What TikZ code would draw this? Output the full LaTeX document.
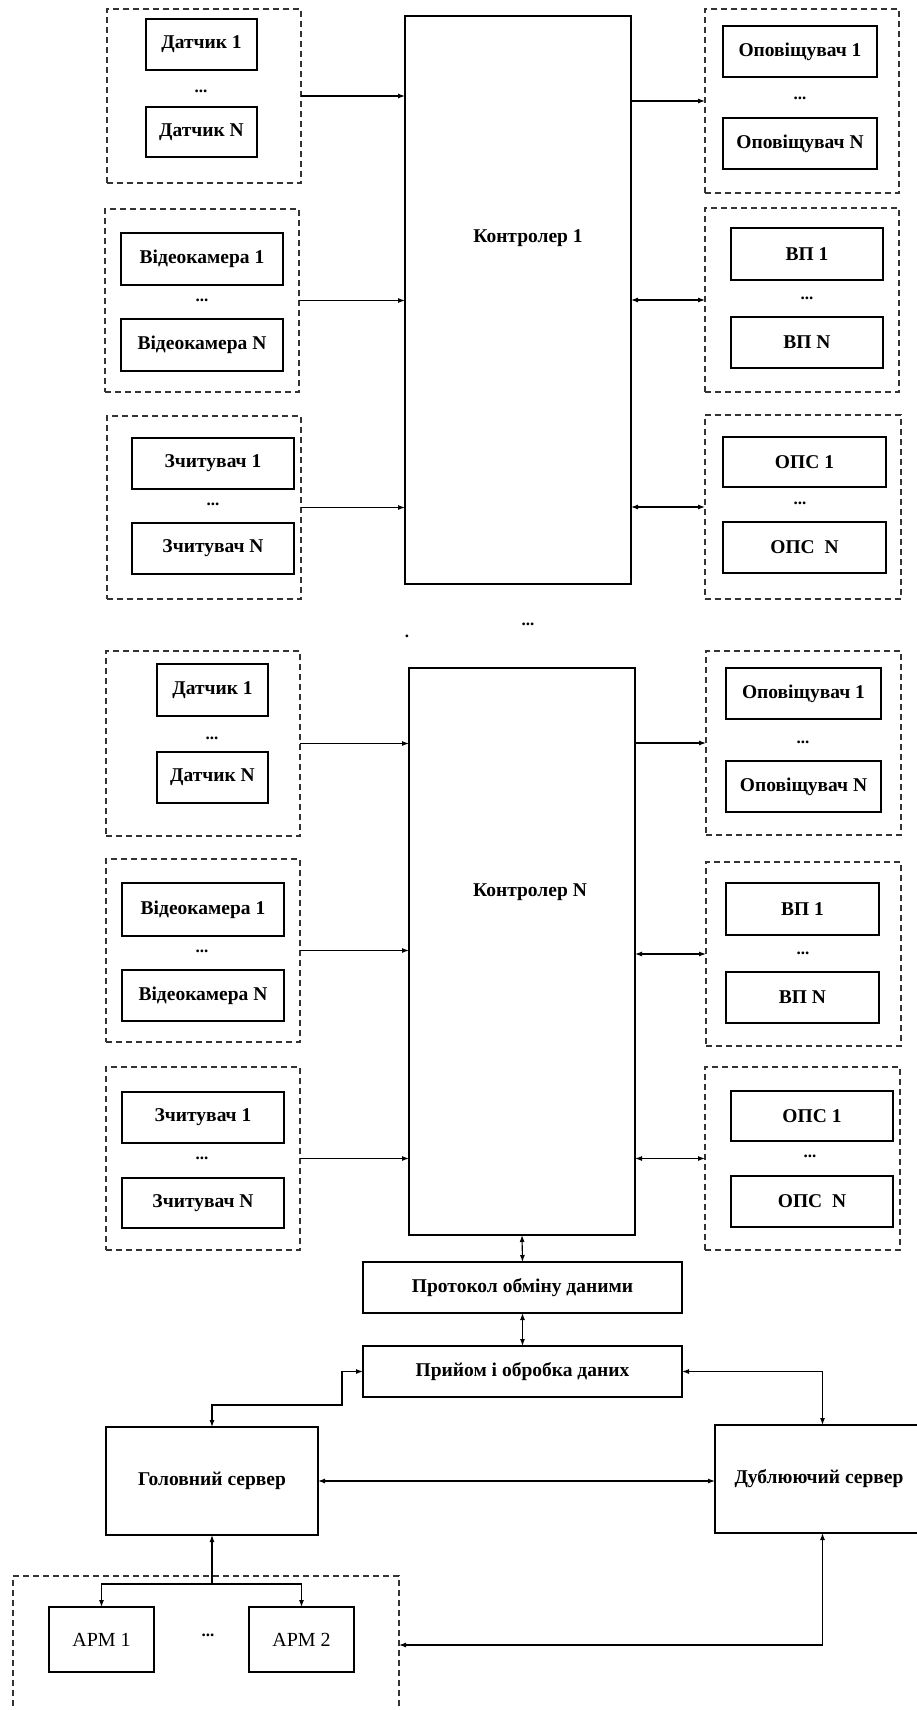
\documentclass[tikz,border=0pt]{standalone}
\usepackage{fontspec}
\setmainfont{Liberation Serif}
\usetikzlibrary{arrows.meta}
\tikzset{
  box/.style={draw=black,line width=1.2pt,fill=white,font=\bfseries\fontsize{19.5}{22}\selectfont,align=center},
  bigbox/.style={draw=black,line width=1.3pt,font=\bfseries\fontsize{19.5}{22}\selectfont,align=center},
  grp/.style={draw=black!80,line width=1.3pt,dash pattern=on 6pt off 4pt},
  apmbox/.style={draw=black,line width=1.3pt,font=\fontsize{20}{23}\selectfont},
  lbl/.style={font=\bfseries\fontsize{19.5}{22}\selectfont,inner sep=0pt},
  dotlbl/.style={font=\bfseries\fontsize{17}{19}\selectfont,inner sep=0pt},
  arr/.style={line width=1.1pt,-{Latex[length=7pt,width=5pt]}},
  darr/.style={line width=1.1pt,{Latex[length=7pt,width=5pt]}-{Latex[length=7pt,width=5pt]}}
}
\newcommand\bx[7][box]{\node[#1,minimum width={#5-#3},minimum height={#6-#4},inner sep=0pt,outer sep=0pt] (#2) at ({(#3+#5)/2},{(#4+#6)/2}) {#7};}
\begin{document}
\begin{tikzpicture}[x=1pt,y=-1pt]
\path[use as bounding box] (0,0) rectangle (917,1710);
\clip (0,0) rectangle (917,1710);
\fill[white] (0,0) rectangle (917,1710);

% ---------- Controller 1 ----------
\bx[bigbox]{ctrl1}{405}{16}{631}{584}{}
\node[lbl] (ctrl1lbl) at (528,238) {Контролер 1};

\bx[grp]{dgrp1}{107}{9}{301}{183}{}
\bx{dat1a}{146}{19}{257}{70}{Датчик 1}
\node[dotlbl] (dd1a) at (201,91) {...};
\bx{datNa}{146}{107}{257}{157}{Датчик N}

\bx[grp]{vgrp1}{105}{209}{299}{392}{}
\bx{vid1a}{121}{233}{283}{285}{Відеокамера 1}
\node[dotlbl] (dv1a) at (202,300) {...};
\bx{vidNa}{121}{319}{283}{371}{Відеокамера N}

\bx[grp]{zgrp1}{107}{416}{301}{599}{}
\bx{z1a}{132}{438}{294}{489}{Зчитувач 1}
\node[dotlbl] (dz1a) at (213,504) {...};
\bx{zNa}{132}{523}{294}{574}{Зчитувач N}

\bx[grp]{ogrp1}{705}{9}{899}{193}{}
\bx{o1a}{723}{26}{877}{77}{Оповіщувач 1}
\node[dotlbl] (do1a) at (800,98) {...};
\bx{oNa}{723}{118}{877}{169}{Оповіщувач N}

\bx[grp]{vpgrp1}{705}{208}{899}{392}{}
\bx{vp1a}{731}{228}{883}{280}{ВП 1}
\node[dotlbl] (dvp1a) at (807,298) {...};
\bx{vpNa}{731}{317}{883}{368}{ВП N}

\bx[grp]{opsgrp1}{705}{415}{901}{599}{}
\bx{ops1a}{723}{437}{886}{487}{ОПС 1}
\node[dotlbl] (dops1a) at (800,503) {...};
\bx{opsNa}{723}{522}{886}{573}{ОПС\ \ N}

\draw[arr] (dgrp1.east) -- (ctrl1.west |- dgrp1.east);
\draw[arr] (vgrp1.east) -- (ctrl1.west |- vgrp1.east);
\draw[arr] (zgrp1.east) -- (ctrl1.west |- zgrp1.east);
\draw[arr] (ctrl1.east |- ogrp1.west) -- (ogrp1.west);
\draw[darr] (ctrl1.east |- vpgrp1.west) -- (vpgrp1.west);
\draw[darr] (ctrl1.east |- opsgrp1.west) -- (opsgrp1.west);

\node[dotlbl] (middots) at (528,624) {...};
\node[dotlbl] (stray) at (407,636) {.};

% ---------- Controller N ----------
\bx[bigbox]{ctrlN}{409}{668}{635}{1235}{}
\node[lbl] (ctrlNlbl) at (530,892) {Контролер N};

\bx[grp]{dgrp2}{106}{651}{300}{836}{}
\bx{dat1b}{157}{664}{268}{716}{Датчик 1}
\node[dotlbl] (dd1b) at (212,738) {...};
\bx{datNb}{157}{752}{268}{803}{Датчик N}

\bx[grp]{vgrp2}{106}{859}{300}{1042}{}
\bx{vid1b}{122}{883}{284}{936}{Відеокамера 1}
\node[dotlbl] (dv1b) at (202,951) {...};
\bx{vidNb}{122}{970}{284}{1021}{Відеокамера N}

\bx[grp]{zgrp2}{106}{1067}{300}{1250}{}
\bx{z1b}{122}{1092}{284}{1143}{Зчитувач 1}
\node[dotlbl] (dz1b) at (202,1158) {...};
\bx{zNb}{122}{1178}{284}{1228}{Зчитувач N}

\bx[grp]{ogrp2}{706}{651}{901}{835}{}
\bx{o1b}{726}{668}{881}{719}{Оповіщувач 1}
\node[dotlbl] (do1b) at (803,742) {...};
\bx{oNb}{726}{761}{881}{812}{Оповіщувач N}

\bx[grp]{vpgrp2}{706}{862}{901}{1046}{}
\bx{vp1b}{726}{883}{879}{935}{ВП 1}
\node[dotlbl] (dvp1b) at (803,953) {...};
\bx{vpNb}{726}{972}{879}{1023}{ВП N}

\bx[grp]{opsgrp2}{705}{1067}{900}{1250}{}
\bx{ops1b}{731}{1091}{893}{1141}{ОПС 1}
\node[dotlbl] (dops1b) at (810,1156) {...};
\bx{opsNb}{731}{1176}{893}{1227}{ОПС\ \ N}

\draw[arr] (dgrp2.east) -- (ctrlN.west |- dgrp2.east);
\draw[arr] (vgrp2.east) -- (ctrlN.west |- vgrp2.east);
\draw[arr] (zgrp2.east) -- (ctrlN.west |- zgrp2.east);
\draw[arr] (ctrlN.east |- ogrp2.west) -- (ogrp2.west);
\draw[darr] (ctrlN.east |- vpgrp2.west) -- (vpgrp2.west);
\draw[darr] (ctrlN.east |- opsgrp2.west) -- (opsgrp2.west);

% ---------- Bottom ----------
\bx{prot}{363}{1262}{682}{1313}{Протокол обміну даними}
\bx{recv}{363}{1346}{682}{1397}{Прийом і обробка даних}
\draw[darr] (ctrlN.south) -- (prot.north);
\draw[darr] (prot.south) -- (recv.north);

\bx[bigbox]{main}{106}{1427}{318}{1535}{Головний сервер}
\bx[bigbox]{dub}{715}{1425}{930}{1533}{\hspace*{-7pt}Дублюючий сервер}
\draw[line width=2.5pt] (main.north west) -- (main.north east);
\draw[line width=2.5pt] (dub.north west) -- (dub.north east);

\coordinate (k1) at (342,1405);
\draw[darr] (recv.west) -| (k1) -| (main.north);
\draw[darr] (recv.east) -| (dub.north);
\draw[darr] (main.east) -- (dub.west |- main.east);

\bx[grp]{apmgrp}{13}{1576}{399}{1730}{}
\bx[apmbox]{apm1}{49}{1607}{154}{1672}{АРМ 1}
\node[dotlbl] (dapm) at (208,1635) {...};
\bx[apmbox]{apm2}{249}{1607}{354}{1672}{АРМ 2}

\coordinate (j1) at (212,1584);
\draw[arr] (j1) -- (main.south);
\draw[arr] (j1) -| (apm1.north);
\draw[arr] (j1) -| (apm2.north);

\coordinate (k3) at (399,1645);
\draw[darr] (dub.south) |- (k3);
\end{tikzpicture}
\end{document}
